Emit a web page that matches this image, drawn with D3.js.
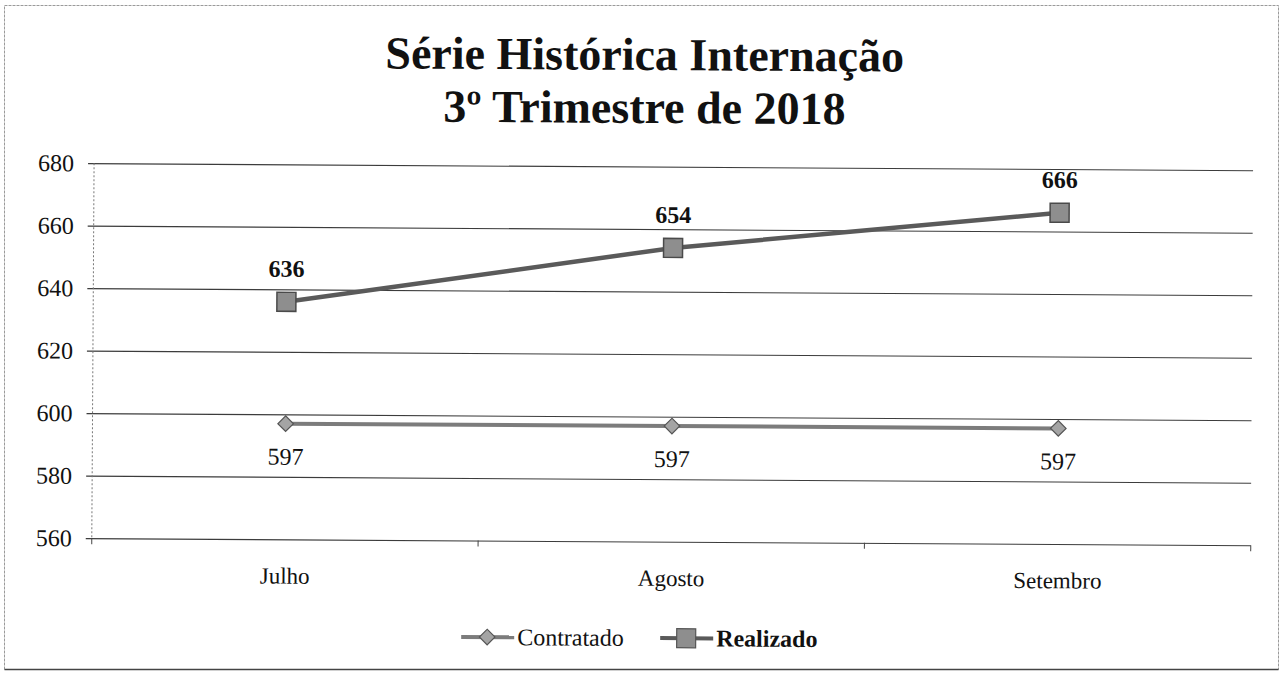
<!DOCTYPE html>
<html>
<head>
<meta charset="utf-8">
<script src="https://cdn.jsdelivr.net/npm/d3@7"></script>
<style>
  body { margin: 0; background: #fff; }
  svg { display: block; }
</style>
</head>
<body>
<svg id="chart"></svg>
<script>
// values
const months = ["Julho", "Agosto", "Setembro"];
const contratado = [597, 597, 597];
const realizado = [636, 654, 666];
const yTicks = [560, 580, 600, 620, 640, 660, 680];
const titleLines = ["Série Histórica Internação", "3º Trimestre de 2018"];

const serif = '"Liberation Serif", "Times New Roman", Times, serif';

let W = 1287, H = 675;
let margin = { top: 166.5, left: 93, right: 35, bottom: 133.5 };
let width = W - margin.left - margin.right,
    height = H - margin.top - margin.bottom;

let svg = d3.select("#chart").attr("width", W).attr("height", H);

// outer frame of the scanned chart
svg.append("rect")
    .attr("x", 4.5).attr("y", 5.5).attr("width", 1274).attr("height", 664)
    .attr("fill", "#fff").attr("stroke", "#9a9a9a").attr("stroke-dasharray", "3,1");
svg.append("line")
    .attr("x1", 4.5).attr("x2", 1278.5).attr("y1", 669.5).attr("y2", 669.5)
    .attr("stroke", "#444").attr("stroke-width", 1.5);

// the scan is a touch tilted, keep that
let page = svg.append("g").attr("transform", "rotate(0.35,643,340)");

// title
page.selectAll(".title").data(titleLines).enter().append("text")
    .attr("class", "title")
    .attr("x", 643)
    .attr("y", (d, i) => 70 + i * 53)
    .attr("text-anchor", "middle")
    .style("font-family", serif)
    .style("font-size", "46px")
    .style("font-weight", "bold")
    .attr("fill", "#111")
    .text(d => d);

let chart = page.append("g")
    .attr("transform", "translate(" + margin.left + "," + margin.top + ")");

let x = d3.scaleBand().domain(months).range([0, width]);
let y = d3.scaleLinear().domain([560, 680]).range([height, 0]);

// gridlines + y labels
let yAxis = d3.axisLeft(y).tickValues(yTicks).tickSizeInner(-width).tickSizeOuter(0).tickPadding(20);
let gy = chart.append("g").call(yAxis);
gy.select(".domain").remove();
gy.selectAll(".tick line")
    .attr("x1", -6)
    .attr("stroke", "#3c3c3c").attr("stroke-width", 1.1);
gy.selectAll(".tick text")
    .style("font-family", serif)
    .style("font-size", "24px")
    .attr("fill", "#111");

// faint vertical axis
chart.append("line")
    .attr("x1", 0).attr("x2", 0).attr("y1", 0).attr("y2", height)
    .attr("stroke", "#777").attr("stroke-dasharray", "2,2");

// x labels
let xAxis = d3.axisBottom(x).tickSize(0).tickPadding(28);
let gx = chart.append("g").attr("transform", "translate(0," + height + ")").call(xAxis);
gx.select(".domain").remove();
gx.selectAll(".tick text")
    .style("font-family", serif)
    .style("font-size", "23px")
    .attr("fill", "#111");

// x ticks sit on the category boundaries
let bounds = months.map(m => x(m)).concat([x.range()[1]]);
chart.selectAll(".xtick").data(bounds).enter().append("line")
    .attr("class", "xtick")
    .attr("x1", d => d).attr("x2", d => d)
    .attr("y1", height).attr("y2", height + 6)
    .attr("stroke", "#444");

let cx = (d, i) => x(months[i]) + x.bandwidth() / 2;
let line = d3.line().x(cx).y(d => y(d));

let diamond = d3.symbol(d3.symbolSquare, 121);
let square = d3.symbol(d3.symbolSquare, 361);

// Contratado
chart.append("path").datum(contratado)
    .attr("d", line).attr("fill", "none")
    .attr("stroke", "#7c7c7c").attr("stroke-width", 4);
chart.selectAll(".cmark").data(contratado).enter().append("path")
    .attr("class", "cmark")
    .attr("d", diamond)
    .attr("transform", (d, i) => "translate(" + cx(d, i) + "," + y(d) + ") rotate(45)")
    .attr("fill", "#a4a4a4").attr("stroke", "#555").attr("stroke-width", 1.2);
chart.selectAll(".clab").data(contratado).enter().append("text")
    .attr("class", "clab")
    .attr("x", cx).attr("y", d => y(d) + 41)
    .attr("text-anchor", "middle")
    .style("font-family", serif)
    .style("font-size", "24px")
    .attr("fill", "#111")
    .text(d => d);

// Realizado
chart.append("path").datum(realizado)
    .attr("d", line).attr("fill", "none")
    .attr("stroke", "#5a5a5a").attr("stroke-width", 4.5);
chart.selectAll(".rmark").data(realizado).enter().append("path")
    .attr("class", "rmark")
    .attr("d", square)
    .attr("transform", (d, i) => "translate(" + cx(d, i) + "," + y(d) + ")")
    .attr("fill", "#8e8e8e").attr("stroke", "#4a4a4a").attr("stroke-width", 1.5);
chart.selectAll(".rlab").data(realizado).enter().append("text")
    .attr("class", "rlab")
    .attr("x", cx).attr("y", d => y(d) - 25)
    .attr("text-anchor", "middle")
    .style("font-family", serif)
    .style("font-size", "24px")
    .style("font-weight", "bold")
    .attr("fill", "#111")
    .text(d => d);

// legend
let legend = [
  { name: "Contratado", x: 463, color: "#7c7c7c", sym: diamond, rot: 45, fill: "#a4a4a4", bold: false },
  { name: "Realizado", x: 662, color: "#5a5a5a", sym: square, rot: 0, fill: "#8e8e8e", bold: true }
];
let lg = page.selectAll(".legend").data(legend).enter().append("g")
    .attr("class", "legend")
    .attr("transform", d => "translate(" + d.x + ",638)");
lg.append("line")
    .attr("x1", 0).attr("x2", 53).attr("y1", 0).attr("y2", 0)
    .attr("stroke", d => d.color).attr("stroke-width", 4);
lg.append("path")
    .attr("d", d => d.sym())
    .attr("transform", d => "translate(26,0) rotate(" + d.rot + ")")
    .attr("fill", d => d.fill).attr("stroke", "#555").attr("stroke-width", 1.2);
lg.append("text")
    .attr("x", 56).attr("y", 8)
    .style("font-family", serif)
    .style("font-size", "24px")
    .style("font-weight", d => d.bold ? "bold" : "normal")
    .attr("fill", "#111")
    .text(d => d.name);
</script>
</body>
</html>
